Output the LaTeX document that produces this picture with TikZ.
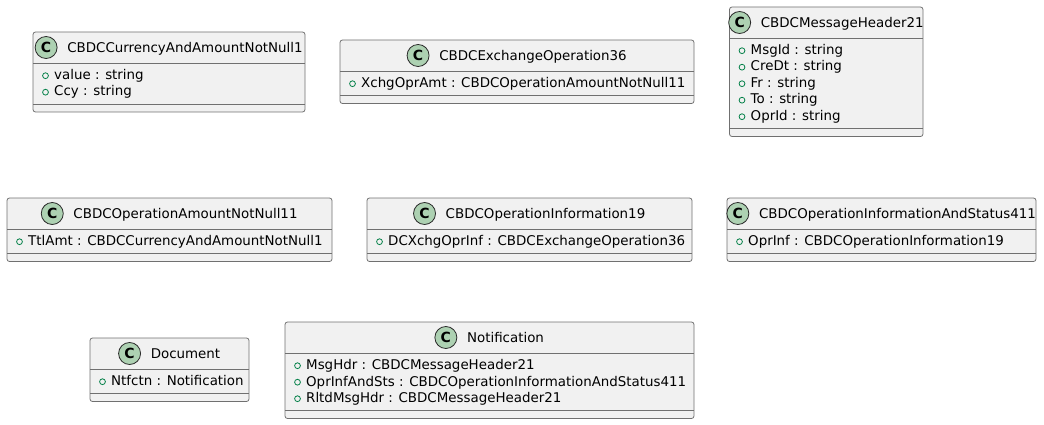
\documentclass[tikz,border=0pt]{standalone}
\usepackage{fontspec}
\setmainfont{DejaVu Sans}
\usetikzlibrary{calc}
\definecolor{boxfill}{RGB}{241,241,241}
\definecolor{boxline}{RGB}{112,112,112}
\definecolor{iconline}{RGB}{40,40,40}
\definecolor{iconfill}{RGB}{173,209,178}
\definecolor{attrgreen}{RGB}{3,128,72}
\tikzset{
  classbox/.style={fill=boxfill, draw=boxline, line width=0.8pt, rounded corners=2.5pt},
  sepline/.style={draw=boxline, line width=0.8pt},
  titletext/.style={inner sep=0pt, text height=9.8pt, text depth=0pt, font=\fontsize{13.4}{16}\selectfont},
  classicon/.style={circle, fill=iconfill, draw=iconline, line width=0.8pt, minimum size=22pt, inner sep=0pt, font=\fontsize{14}{16}\selectfont\bfseries},
  attrmark/.style={circle, draw=attrgreen, line width=0.8pt, minimum size=5.8pt, inner sep=0pt},
  attrtext/.style={inner sep=0pt, anchor=base west, font=\fontsize{13.4}{16}\selectfont},
}
% #1 name, #2 left, #3 top, #4 right, #5 number of attributes, #6 title
\newcommand{\umlclass}[6]{%
  \pgfmathsetmacro{\csep}{#3+31}%
  \pgfmathsetmacro{\cbsep}{\csep+8+16.5*#5}%
  \pgfmathsetmacro{\cbot}{\cbsep+8}%
  \pgfmathsetmacro{\cmid}{(#2+#4)/2}%
  \pgfmathsetmacro{\chy}{#3+15.5}%
  \draw[classbox] (#2,-#3) rectangle (#4,-\cbot);
  \draw[sepline] (#2,-\csep) -- (#4,-\csep);
  \draw[sepline] (#2,-\cbsep) -- (#4,-\cbsep);
  \node[titletext] (#1-title) at (\cmid+16,-\chy) {#6};
  \node[classicon] (#1-icon) at ([xshift=-21pt]#1-title.west) {C};
}
% #1 name, #2 left, #3 top, #4 index, #5 text
\newcommand{\umlattr}[5]{%
  \pgfmathsetmacro{\abase}{#3+47.5+16.5*(#4-1)}%
  \node[attrmark] (#1-m#4) at (#2+12.5,-\abase+3.8) {};
  \node[attrtext] (#1-a#4) at (#2+21,-\abase) {#5};
}
\begin{document}
\begin{tikzpicture}[x=1pt,y=1pt]
\useasboundingbox (0,0) rectangle (1044,-425);
% row 1
\umlclass{cur}{33}{32}{305}{2}{CBDCCurrencyAndAmountNotNull1}
\umlattr{cur}{33}{32}{1}{value : string}
\umlattr{cur}{33}{32}{2}{Ccy : string}

\umlclass{exch}{340}{40}{694}{1}{CBDCExchangeOperation36}
\umlattr{exch}{340}{40}{1}{XchgOprAmt : CBDCOperationAmountNotNull11}

\umlclass{msg}{729.5}{7}{923}{5}{CBDCMessageHeader21}
\umlattr{msg}{729.5}{7}{1}{MsgId : string}
\umlattr{msg}{729.5}{7}{2}{CreDt : string}
\umlattr{msg}{729.5}{7}{3}{Fr : string}
\umlattr{msg}{729.5}{7}{4}{To : string}
\umlattr{msg}{729.5}{7}{5}{OprId : string}

% row 2
\umlclass{opamt}{7}{198}{332}{1}{CBDCOperationAmountNotNull11}
\umlattr{opamt}{7}{198}{1}{TtlAmt : CBDCCurrencyAndAmountNotNull1}

\umlclass{opinf}{367}{198}{692}{1}{CBDCOperationInformation19}
\umlattr{opinf}{367}{198}{1}{DCXchgOprInf : CBDCExchangeOperation36}

\umlclass{opsts}{727}{198}{1036}{1}{CBDCOperationInformationAndStatus411}
\umlattr{opsts}{727}{198}{1}{OprInf : CBDCOperationInformation19}

% row 3
\umlclass{doc}{90}{338}{249}{1}{Document}
\umlattr{doc}{90}{338}{1}{Ntfctn : Notification}

\umlclass{notif}{285}{322}{694}{3}{Notification}
\umlattr{notif}{285}{322}{1}{MsgHdr : CBDCMessageHeader21}
\umlattr{notif}{285}{322}{2}{OprInfAndSts : CBDCOperationInformationAndStatus411}
\umlattr{notif}{285}{322}{3}{RltdMsgHdr : CBDCMessageHeader21}
\end{tikzpicture}
\end{document}
